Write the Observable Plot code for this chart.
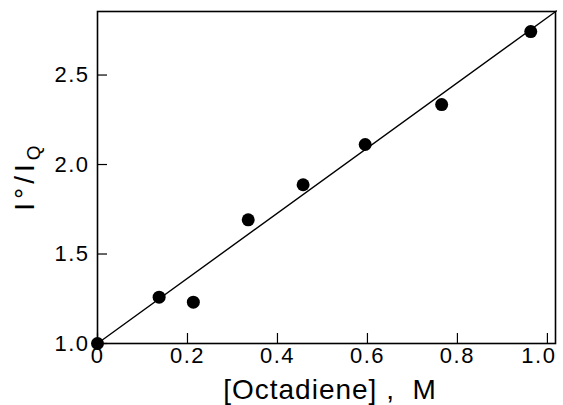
<!DOCTYPE html>
<html><head><meta charset="utf-8">
<script src="https://cdn.jsdelivr.net/npm/d3@7"></script>
<script src="https://cdn.jsdelivr.net/npm/@observablehq/plot@0.6"></script>
<style>body{margin:0;background:#fff;} #chart{position:relative;width:563px;height:405px;}</style>
</head><body><div id="chart"></div>
<script>
const octadiene = [0, 0.137, 0.213, 0.335, 0.457, 0.595, 0.765, 0.963];
const ratio = [1.0, 1.259, 1.231, 1.691, 1.887, 2.112, 2.335, 2.743];
const fitX = [0, 1.02];
const fitY = [1.0, 2.858];
const xTicks = [0, 0.2, 0.4, 0.6, 0.8, 1.0];
const xTickLabels = ["0", "0.2", "0.4", "0.6", "0.8", "1.0"];
const yTicks = [1.0, 1.5, 2.0, 2.5];
const yTickLabels = ["1.0", "1.5", "2.0", "2.5"];

const pts = octadiene.map((x, i) => ({x, y: ratio[i]}));
const fit = fitX.map((x, i) => ({x, y: fitY[i]}));
const font = "'Liberation Sans', Arial, sans-serif";
const W = 563, H = 405, mL = 97, mR = 8, mT = 11, mB = 62, tickLen = 10;
const xDom = [0, 1.018], yDom = [1.0, 2.855];
// tick length expressed in data units of each scale
const yTickTop = yDom[0] + tickLen * (yDom[1] - yDom[0]) / (H - mT - mB);
const xTickEnd = xDom[0] + tickLen * (xDom[1] - xDom[0]) / (W - mL - mR);

const chart = Plot.plot({
  width: W, height: H,
  marginLeft: mL, marginRight: mR, marginTop: mT, marginBottom: mB,
  style: {fontFamily: font, background: "#fff", color: "#000"},
  x: {domain: xDom},
  y: {domain: yDom},
  marks: [
    Plot.axisX({ticks: xTicks, tickFormat: (d, i) => xTickLabels[i], tickSize: 0, tickPadding: 4, label: null, fontSize: 22}),
    Plot.axisY({ticks: yTicks, tickFormat: (d, i) => yTickLabels[i], tickSize: 0, tickPadding: 8, label: null, fontSize: 22}),
    // inward ticks
    Plot.ruleX(xTicks, {x: d => d, y1: yDom[0], y2: yTickTop, stroke: "#000", strokeWidth: 1.2}),
    Plot.ruleY(yTicks, {y: d => d, x1: xDom[0], x2: xTickEnd, stroke: "#000", strokeWidth: 1.2}),
    Plot.frame({stroke: "#000", strokeWidth: 1.6}),
    Plot.line(fit, {x: "x", y: "y", stroke: "#000", strokeWidth: 1.4}),
    Plot.dot(pts, {x: "x", y: "y", r: 6.5, fill: "#000", stroke: "none"})
  ]
});
document.getElementById("chart").appendChild(chart);

const svg = d3.select(chart);
svg.selectAll("g[aria-label$='tick label'] text")
  .attr("font-size", 22).style("letter-spacing", "1.5px");
// keep the last x tick label inside the picture, as in the reference
const xl = svg.selectAll("g[aria-label='x-axis tick label'] text").nodes();
if (xl.length) d3.select(xl[xl.length - 1]).attr("text-anchor", "end").attr("dx", 9);
svg.append("text")
  .attr("x", 330).attr("y", 399)
  .attr("text-anchor", "middle")
  .attr("font-family", font).attr("font-size", 28).attr("letter-spacing", "1px").attr("fill", "#000")
  .text("[Octadiene] ,  M");
const yl = svg.append("text")
  .attr("transform", "translate(34,176) rotate(-90)")
  .attr("text-anchor", "middle")
  .attr("font-family", font).attr("font-size", 28).attr("letter-spacing", "4px").attr("fill", "#000");
yl.append("tspan").text("I°/I");
yl.append("tspan").attr("font-size", 19).attr("dy", 6).text("Q");
</script>
</body></html>
